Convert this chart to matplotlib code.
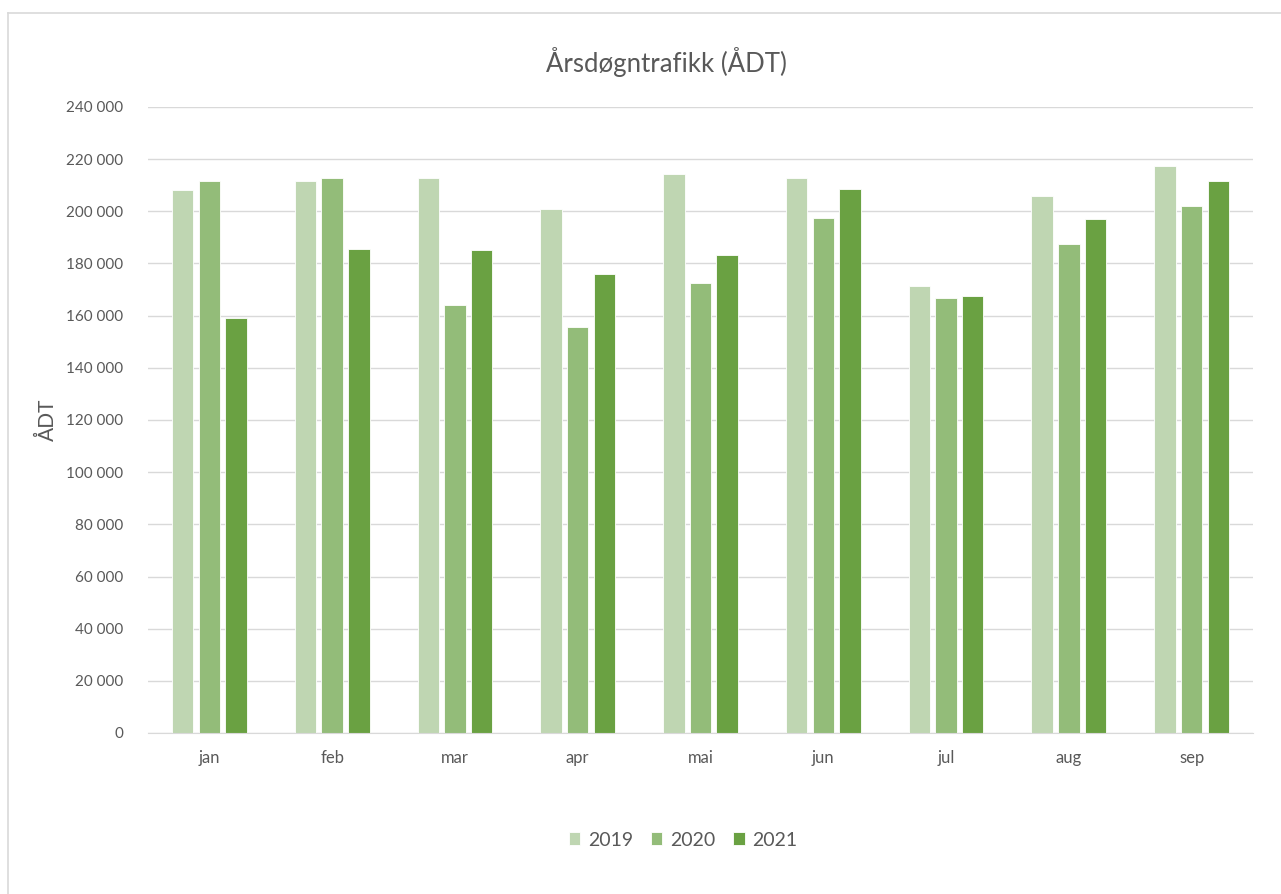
import numpy as np
import matplotlib
matplotlib.use("Agg")
import matplotlib.pyplot as plt
from matplotlib.lines import Line2D
from matplotlib.ticker import FuncFormatter

plt.rcParams['font.family'] = ['Lato', 'DejaVu Sans']

months = ['jan', 'feb', 'mar', 'apr', 'mai', 'jun', 'jul', 'aug', 'sep']
years = ['2019', '2020', '2021']
adt_2019 = [208000, 211500, 212600, 201000, 214500, 212600, 171500, 205700, 217400]
adt_2020 = [211500, 212600, 164000, 155700, 172700, 197400, 166900, 187400, 202100]
adt_2021 = [159200, 185700, 185100, 175800, 183300, 208700, 167600, 196900, 211500]
colors = ['#bfd6b2', '#93bc79', '#6aa142']

text_col = '#595959'
grid_col = '#d9d9d9'

fig = plt.figure(figsize=(12.81, 8.94), dpi=100)
ax = fig.add_axes([148/1281, 1-733/894, (1253-148)/1281, (733-107)/894])

x = np.arange(len(months))
step = 0.217
width = 0.175
for i, (vals, yr) in enumerate(zip([adt_2019, adt_2020, adt_2021], years)):
    ax.bar(x + (i-1)*step, vals, width, color=colors[i], label=yr,
           edgecolor='white', linewidth=0.6, zorder=3)

ax.set_xlim(-0.5, len(months)-0.5)
ax.set_ylim(0, 240000)
ax.set_yticks(np.arange(0, 240001, 20000))
ax.yaxis.set_major_formatter(FuncFormatter(lambda v, p: f"{int(v):,}".replace(',', ' ')))
ax.set_xticks(x)
ax.set_xticklabels(months)
ax.grid(axis='y', color=grid_col, linewidth=1, zorder=0)
for s in ['top', 'right', 'left']:
    ax.spines[s].set_visible(False)
ax.spines['bottom'].set_color(grid_col)
ax.spines['bottom'].set_zorder(4)
ax.tick_params(axis='y', length=0, labelsize=11, colors=text_col, pad=18)
ax.tick_params(axis='x', length=0, labelsize=12, colors=text_col, pad=12)

ax.set_ylabel('ÅDT', fontsize=15, color=text_col, labelpad=6)
fig.text(666/1281, 1-62/894, 'Årsdøgntrafikk (ÅDT)', ha='center', va='center',
         fontsize=18.5, color=text_col)

leg = fig.legend(loc='center', bbox_to_anchor=(683/1281, 1-840/894), ncol=3,
                 frameon=False, fontsize=14, handlelength=0.6, handleheight=0.6,
                 columnspacing=0.9, handletextpad=0.4, labelcolor=text_col)

# outer chart border (left and top only)
fig.add_artist(Line2D([8/1281, 8/1281], [0, 1-13/894], color=grid_col, linewidth=1.2))
fig.add_artist(Line2D([8/1281, 1], [1-13/894, 1-13/894], color=grid_col, linewidth=1.2))

fig.savefig('out.png', dpi=100)
